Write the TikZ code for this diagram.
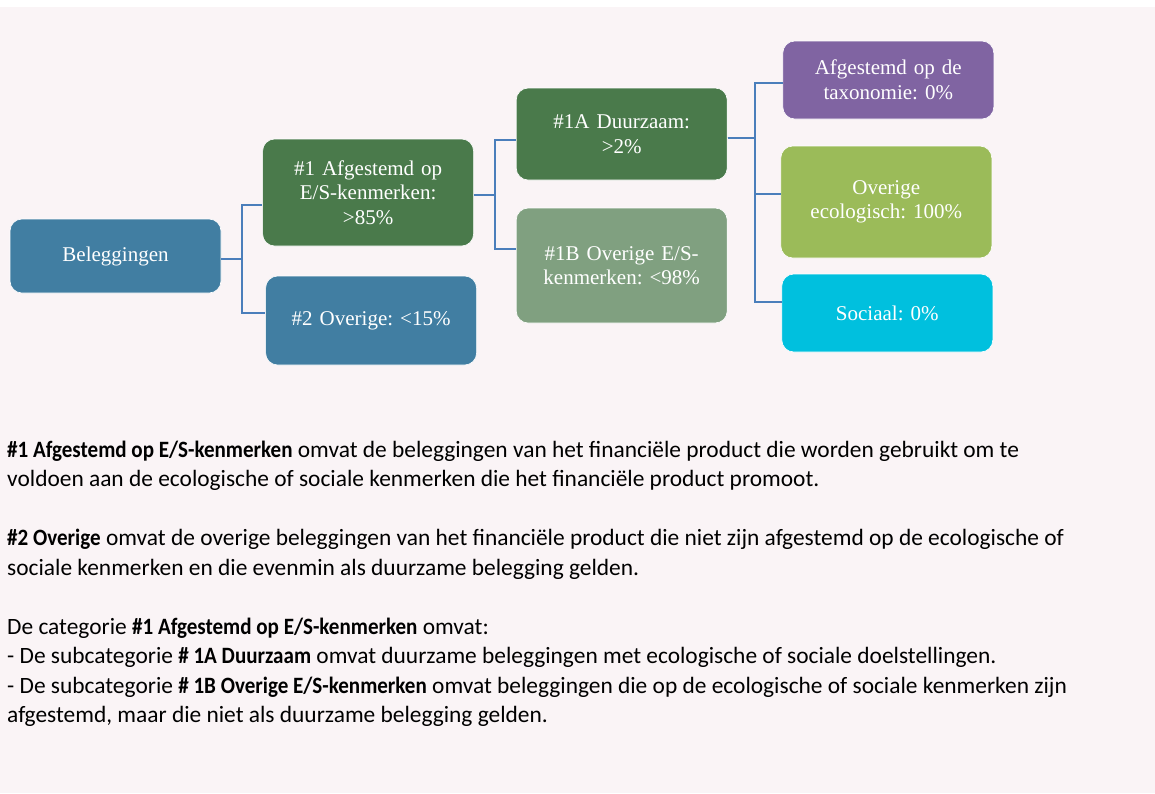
\documentclass[tikz,border=0pt]{standalone}
\usepackage{fontspec}
\setmainfont{Liberation Serif}
\newfontfamily\calibri{Carlito}[BoldFeatures={FakeStretch=0.9}]
\usepackage{xcolor}
\usepackage{tikz}
\usetikzlibrary{positioning}

\definecolor{achtergrond}{HTML}{FAF4F6}
\definecolor{blauw}{HTML}{417EA2}
\definecolor{donkergroen}{HTML}{4A7A4B}
\definecolor{grijsgroen}{HTML}{80A080}
\definecolor{paars}{HTML}{8064A2}
\definecolor{lichtgroen}{HTML}{9BBB59}
\definecolor{cyaan}{HTML}{00C0DE}
\definecolor{lijn}{HTML}{4A7EBB}

\tikzset{
    blok/.style={rounded corners=12pt, draw=white, line width=0.6pt, text=white,
        minimum width=211pt, text width=200pt, align=center, inner sep=0pt,
        font=\fontsize{21}{24.5}\selectfont\frenchspacing},
    tak/.style={draw=lijn, line width=2pt},
    uitleg/.style={anchor=base west, align=left, inner sep=0pt,
        font=\calibri\fontsize{23.4}{29.5}\selectfont\frenchspacing}
}

\begin{document}
\begin{tikzpicture}[x=1pt,y=-1pt]
        \useasboundingbox (0,0) rectangle (1155,793);
        \fill[white] (0,0) rectangle (1155,7);
        \fill[achtergrond] (0,7) rectangle (1155,793);

        \node[blok, fill=blauw, minimum height=74pt] (bel) at (115.5,256) {Beleggingen};
        \node[blok, fill=donkergroen, minimum height=107pt, right=41pt of bel, yshift=63.5pt] (a1) {\#1 Afgestemd op\\E/S-kenmerken:\\>85\%};
        \node[blok, fill=blauw, minimum height=89pt, right=44pt of bel, yshift=-64.5pt] (o2) {\#2 Overige: <15\%};
        \node[blok, fill=donkergroen, minimum height=92pt, right=42pt of a1, yshift=58.5pt] (d1a) {\#1A Duurzaam:\\>2\%};
        \node[blok, fill=grijsgroen, minimum height=115pt, right=42pt of a1, yshift=-73pt] (o1b) {\#1B Overige E/S-\\kenmerken: <98\%};
        \node[blok, fill=paars, minimum height=78pt, right=55pt of d1a, yshift=54pt] (tax) {Afgestemd op de\\taxonomie: 0\%};
        \node[blok, fill=lichtgroen, minimum height=112pt, right=53pt of d1a, yshift=-68pt] (eco) {Overige\\ecologisch: 100\%};
        \node[blok, fill=cyaan, minimum height=78pt, right=54pt of d1a, yshift=-179pt] (soc) {Sociaal: 0\%};

        \draw[tak] ([yshift=-3pt]bel.east) -- ++(21,0) |- ([yshift=-12.5pt]a1.west);
        \draw[tak] ([yshift=-3pt]bel.east) -- ++(21,0) |- ([yshift=7.5pt]o2.west);
        \draw[tak] ([yshift=-2.5pt]a1.east) -- ++(21,0) |- ([yshift=-6pt]d1a.west);
        \draw[tak] ([yshift=-2.5pt]a1.east) -- ++(21,0) |- ([yshift=16.5pt]o1b.west);
        \draw[tak] ([yshift=-4pt]d1a.east) -- ++(27,0) |- ([yshift=-3pt]tax.west);
        \draw[tak] ([yshift=-4pt]d1a.east) -- ++(27,0) |- ([yshift=8pt]eco.west);
        \draw[tak] ([yshift=-4pt]d1a.east) -- ++(27,0) |- ([yshift=11pt]soc.west);

        \node[uitleg] (par1) at (7,486.5) {\textbf{\#1 Afgestemd op E/S-kenmerken} omvat de beleggingen van het financiële product die worden gebruikt om te\\voldoen aan de ecologische of sociale kenmerken die het financiële product promoot.};
        \node[uitleg] (par2) at (7,575) {\textbf{\#2 Overige} omvat de overige beleggingen van het financiële product die niet zijn afgestemd op de ecologische of\\sociale kenmerken en die evenmin als duurzame belegging gelden.};
        \node[uitleg] (par3) at (7,722.5) {De categorie \textbf{\#1 Afgestemd op E/S-kenmerken} omvat:\\- De subcategorie \textbf{\# 1A Duurzaam} omvat duurzame beleggingen met ecologische of sociale doelstellingen.\\- De subcategorie \textbf{\# 1B Overige E/S-kenmerken} omvat beleggingen die op de ecologische of sociale kenmerken zijn\\afgestemd, maar die niet als duurzame belegging gelden.};
    \end{tikzpicture}
\end{document}
